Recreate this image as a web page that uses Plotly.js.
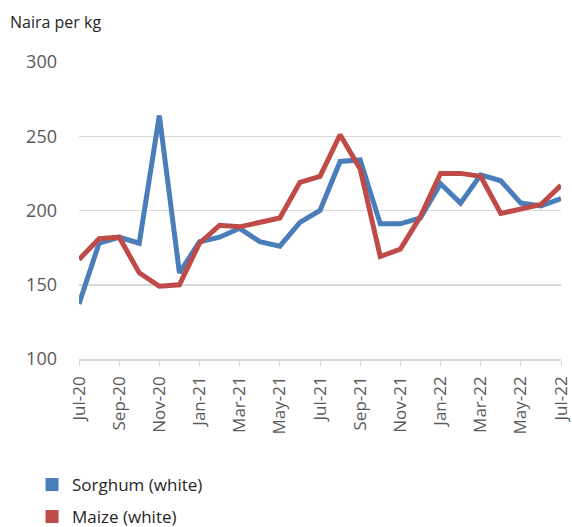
<!DOCTYPE html>
<html>
<head>
<meta charset="utf-8">
<script src="https://cdn.plot.ly/plotly-3.0.1.min.js"></script>
<style>html,body{margin:0;padding:0;background:#fff;}#chart{width:572px;height:527px;}</style>
</head>
<body>
<div id="chart"></div>
<script>
const months = ["Jul-20","Aug-20","Sep-20","Oct-20","Nov-20","Dec-20","Jan-21","Feb-21","Mar-21","Apr-21","May-21","Jun-21","Jul-21","Aug-21","Sep-21","Oct-21","Nov-21","Dec-21","Jan-22","Feb-22","Mar-22","Apr-22","May-22","Jun-22","Jul-22"];
const tickLabels = ["Jul-20","Sep-20","Nov-20","Jan-21","Mar-21","May-21","Jul-21","Sep-21","Nov-21","Jan-22","Mar-22","May-22","Jul-22"];
const sorghum = [137,178,182,178,264,158,179,182,188,179,176,192,200,233,234,191,191,195,218,205,224,220,205,203,208];
const maize = [167,181,182,158,149,150,178,190,189,192,195,219,223,251,228,169,174,196,225,225,223,198,201,204,217];

const seriesNames = ["Sorghum (white)","Maize (white)"];
const colors = ["#4a7ebb","#be4b48"];
const font = "Open Sans, sans-serif";

const traces = [
  {x: months, y: sorghum, type: "scatter", mode: "lines", line: {color: colors[0], width: 5}, showlegend: false},
  {x: months, y: maize, type: "scatter", mode: "lines", line: {color: colors[1], width: 5}, showlegend: false},
  {x: [null], y: [null], type: "scatter", mode: "markers", name: seriesNames[0], marker: {symbol: "square", size: 13, color: colors[0]}, legend: "legend"},
  {x: [null], y: [null], type: "scatter", mode: "markers", name: seriesNames[1], marker: {symbol: "square", size: 13, color: colors[1]}, legend: "legend2"}
];

const legendCommon = {orientation: "v", xref: "container", yref: "container", xanchor: "left", yanchor: "middle", bgcolor: "rgba(0,0,0,0)", font: {family: font, size: 17, color: "#262626"}, itemwidth: 30};

const layout = {
  width: 572, height: 527,
  margin: {l: 79, r: 11, t: 62, b: 168, autoexpand: false},
  paper_bgcolor: "#fff", plot_bgcolor: "#fff",
  font: {family: font},
  xaxis: {
    type: "category", range: [0, months.length - 1], automargin: false,
    tickmode: "array", tickvals: tickLabels, ticktext: tickLabels,
    tickangle: -90, ticks: "outside", ticklen: 5, tickcolor: "#d9d9d9",
    showline: true, linecolor: "#d9d9d9", linewidth: 1.5,
    showgrid: false, zeroline: false,
    tickfont: {family: font, size: 17, color: "#595959"},
    ticklabelstandoff: 4
  },
  yaxis: {
    range: [100, 300], tickvals: [100,150,200,250,300], automargin: false,
    showgrid: true, gridcolor: "#d9d9d9", gridwidth: 1.5,
    zeroline: false, showline: false, ticks: "",
    tickfont: {family: font, size: 18, color: "#595959"},
    ticklabelstandoff: 21
  },
  legend: Object.assign({x: 0.056, y: 0.0797}, legendCommon),
  legend2: Object.assign({x: 0.056, y: 0.019}, legendCommon),
  annotations: [{
    text: "Naira per kg", xref: "paper", yref: "paper", x: -0.1473, y: 1.1347,
    xanchor: "left", yanchor: "middle", showarrow: false,
    font: {family: font, size: 16, color: "#262626"}
  }]
};

Plotly.newPlot("chart", traces, layout, {displayModeBar: false, staticPlot: true});
</script>
</body>
</html>
